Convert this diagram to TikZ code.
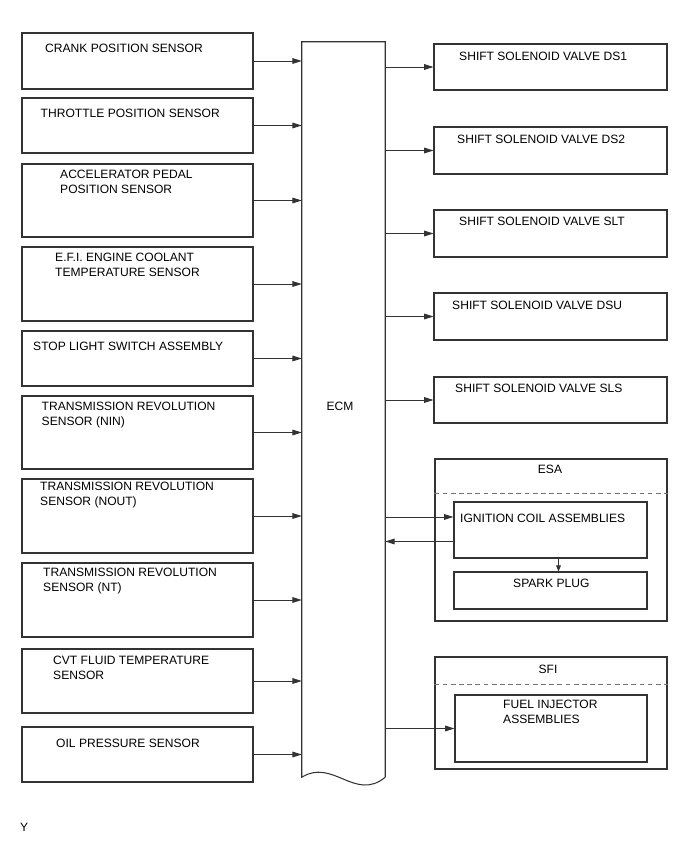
\documentclass[tikz,border=0pt]{standalone}
\usepackage{fontspec}
\setmainfont{Liberation Sans}
\usetikzlibrary{arrows.meta,positioning,calc,fit}

\begin{document}
\begin{tikzpicture}[x=0.3mm, y=-0.3mm,
    every node/.style={font=\fontsize{10.3}{12.8}\selectfont},
    blk/.style={draw=black!80, line width=0.9pt, inner sep=0pt},
    txt/.style={anchor=north west, align=left, inner sep=0pt},
    sig/.style={-{Triangle[length=2.8mm, width=1.7mm]}, draw=black!80, line width=0.75pt},
    sigshort/.style={-{Triangle[length=1.8mm, width=1.4mm]}, draw=black!80, line width=0.75pt},
    sepline/.style={draw=black!55, line width=0.75pt, dash pattern=on 4pt off 3pt}]
\useasboundingbox (0,0) rectangle (688,852);

% ==== Input sensors (left column) ====
\node[blk, fit={(22,33) (253,89)}]   (crank)    {};
\node[blk, fit={(22,98) (253,153)}]  (throttle) {};
\node[blk, fit={(22,164) (253,237)}] (accel)    {};
\node[blk, fit={(22,247) (253,321)}] (efi)      {};
\node[blk, fit={(22,331) (253,386)}] (stop)     {};
\node[blk, fit={(22,396) (253,469)}] (nin)      {};
\node[blk, fit={(22,479) (253,553)}] (nout)     {};
\node[blk, fit={(22,563) (253,637)}] (nt)       {};
\node[blk, fit={(22,649) (253,713)}] (cvt)      {};
\node[blk, fit={(22,727) (253,782)}] (oil)      {};

\node[txt] (crankT)    at (45,44)    {CRANK POSITION SENSOR};
\node[txt] (throttleT) at (40.5,109) {THROTTLE POSITION SENSOR};
\node[txt] (accelT)    at (60,170)   {ACCELERATOR PEDAL\\POSITION SENSOR};
\node[txt] (efiT)      at (55,252.5) {E.F.I. ENGINE COOLANT\\TEMPERATURE SENSOR};
\node[txt] (stopT)     at (33,342)   {STOP LIGHT SWITCH ASSEMBLY};
\node[txt] (ninT)      at (41.5,402) {TRANSMISSION REVOLUTION\\SENSOR (NIN)};
\node[txt] (noutT)     at (40,482)   {TRANSMISSION REVOLUTION\\SENSOR (NOUT)};
\node[txt] (ntT)       at (43,568)   {TRANSMISSION REVOLUTION\\SENSOR (NT)};
\node[txt] (cvtT)      at (53,656)   {CVT FLUID TEMPERATURE\\SENSOR};
\node[txt] (oilT)      at (56,739)   {OIL PRESSURE SENSOR};

% ==== ECM (tall block with wavy bottom edge) ====
\node[inner sep=0pt, fit={(302,42) (385,777)}] (ecm) {};
\node (ecmT) at (340,406) {ECM};
\draw[draw=black!80, line width=0.9pt]
    (ecm.south east) -- (ecm.north east) -- (ecm.north west) -- (ecm.south west)
    .. controls (333,758) and (355,802) .. (ecm.south east);

% ==== Shift solenoids (right column) ====
\node[blk, fit={(434,44) (667,90)}]   (ds1) {};
\node[blk, fit={(434,127) (667,174)}] (ds2) {};
\node[blk, fit={(434,210) (667,257)}] (slt) {};
\node[blk, fit={(434,293) (667,340)}] (dsu) {};
\node[blk, fit={(434,377) (667,423)}] (sls) {};

\node[txt] (ds1T) at (459,52)  {SHIFT SOLENOID VALVE DS1};
\node[txt] (ds2T) at (457,135) {SHIFT SOLENOID VALVE DS2};
\node[txt] (sltT) at (459,217) {SHIFT SOLENOID VALVE SLT};
\node[txt] (dsuT) at (452,301) {SHIFT SOLENOID VALVE DSU};
\node[txt] (slsT) at (455,384) {SHIFT SOLENOID VALVE SLS};

% ==== ESA group ====
\node[blk, fit={(435,459) (667,621)}] (esa)   {};
\node[blk, fit={(454,502) (647,558)}] (ign)   {};
\node[blk, fit={(454,572) (647,609)}] (spark) {};
\node[anchor=north, inner sep=0pt] (esaT) at (550,465) {ESA};
\draw[sepline] ($(esa.north west)+(0,35)$) -- ($(esa.north east)+(0,35)$);
\node[txt] (ignT)   at (460,514) {IGNITION COIL ASSEMBLIES};
\node[txt] (sparkT) at (513,579) {SPARK PLUG};

% ==== SFI group ====
\node[blk, fit={(435,657) (667,769)}] (sfi)  {};
\node[blk, fit={(455,695) (647,762)}] (fuel) {};
\node[anchor=north, inner sep=0pt] (sfiT) at (548,665) {SFI};
\draw[sepline] ($(sfi.north west)+(0,28)$) -- ($(sfi.north east)+(0,28)$);
\node[txt] (fuelT) at (503,700) {FUEL INJECTOR\\ASSEMBLIES};

\node[txt] (code) at (20,823) {Y};

% ==== Signal lines ====
\foreach \s in {crank,throttle,accel,efi,stop,nin,nout,nt,cvt,oil}
  \draw[sig] (\s.east) -- (\s.east -| ecm.west);
\foreach \v in {ds1,ds2,slt,dsu,sls}
  \draw[sig] (ecm.east |- \v.west) -- (\v.west);

\coordinate (ignIn)  at ($(ign.north west)+(0,15.5)$);
\coordinate (ignOut) at ($(ign.north west)+(0,40)$);
\draw[sig] (ecm.east |- ignIn) -- (ignIn);
\draw[sig] (ignOut) -- (ecm.east |- ignOut);
\draw[sigshort] ($(ign.south)+(8,0)$) -- ($(spark.north)+(8,0)$);
\draw[sig] (ecm.east |- fuel.west) -- (fuel.west);
\end{tikzpicture}
\end{document}
